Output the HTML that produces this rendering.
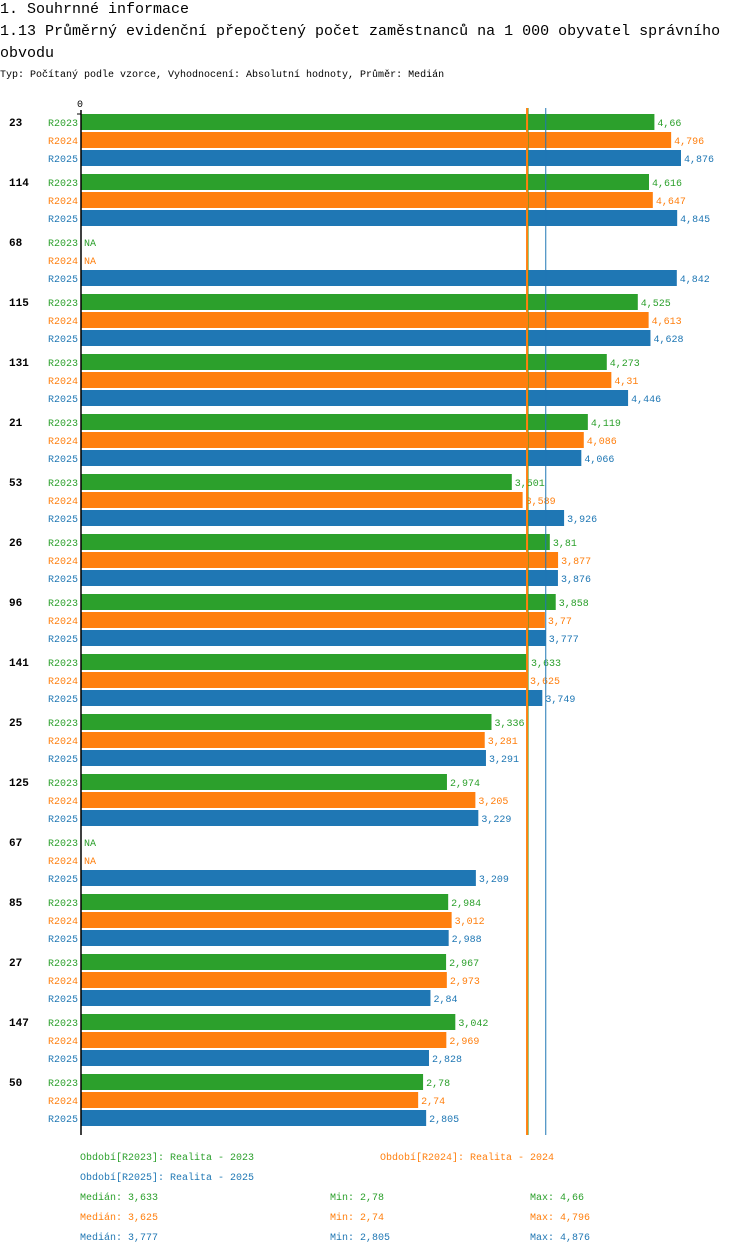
<!DOCTYPE html>
<html><head><meta charset="utf-8"><style>
body{margin:0;background:#fff;font-family:"Liberation Mono","DejaVu Sans Mono",monospace;}
svg text{font-family:"Liberation Mono","DejaVu Sans Mono",monospace;}
</style></head><body>
<svg width="750" height="1254" xmlns="http://www.w3.org/2000/svg">
<text x="0" y="13" font-size="15">1. Souhrnné informace</text>
<text x="0" y="35" font-size="15">1.13 Průměrný evidenční přepočtený počet zaměstnanců na 1 000 obyvatel správního</text>
<text x="0" y="57" font-size="15">obvodu</text>
<text x="0" y="77" font-size="10">Typ: Počítaný podle vzorce, Vyhodnocení: Absolutní hodnoty, Průměr: Medián</text>
<text x="77" y="107" font-size="10">0</text>
<g id="bars"></g>
<g id="legend"></g>
</svg>
<script>
const categories=["23","114","68","115","131","21","53","26","96","141","25","125","67","85","27","147","50"];
const r2023=[4.66,4.616,null,4.525,4.273,4.119,3.501,3.81,3.858,3.633,3.336,2.974,null,2.984,2.967,3.042,2.78];
const r2024=[4.796,4.647,null,4.613,4.31,4.086,3.589,3.877,3.77,3.625,3.281,3.205,null,3.012,2.973,2.969,2.74];
const r2025=[4.876,4.845,4.842,4.628,4.446,4.066,3.926,3.876,3.777,3.749,3.291,3.229,3.209,2.988,2.84,2.828,2.805];
const seriesNames=["R2023","R2024","R2025"];
const medians=[3.633,3.625,3.777];
const mins=[2.78,2.74,2.805];
const maxs=[4.66,4.796,4.876];
const colors=["#2ca02c","#ff7f0e","#1f77b4"];
const NS="http://www.w3.org/2000/svg";
const x0=81,k=123.05,top0=114,gp=60,rp=18,bh=16;
const xs=v=>x0+v*k;
const g=document.getElementById('bars');
function mk(t,a,p){const e=document.createElementNS(NS,t);for(const n in a)e.setAttribute(n,a[n]);(p||g).appendChild(e);return e;}
const series=[r2023,r2024,r2025];
categories.forEach((c,i)=>{
  const gy=top0+i*gp;
  const t=mk('text',{x:9,y:gy+12,'font-size':11,'font-weight':'bold'});t.textContent=c;
  
  
  series.forEach((s,j)=>{
    const y=gy+j*rp;
    const l=mk('text',{x:78,y:y+12,'font-size':10,fill:colors[j],'text-anchor':'end'});l.textContent=seriesNames[j];
    
    
    const v=s[i];
    if(v==null){
      const na=mk('text',{x:x0+3,y:y+12,'font-size':10,fill:colors[j]});na.textContent="NA";
      
      
      return;
    }
    const r=mk('rect',{x:x0,y:y,width:xs(v)-x0,height:bh,fill:colors[j]});
    
    
    const vl=mk('text',{x:xs(v)+3,y:y+12,'font-size':10,fill:colors[j]});vl.textContent=String(v).replace('.',',');
    
    
  });
});
const yEnd=top0+categories.length*gp+1;
[0,1,2].forEach(j=>{
  const ln=mk('line',{x1:xs(medians[j]),x2:xs(medians[j]),y1:108,y2:yEnd,stroke:colors[j],'stroke-width':j==1?2:1});
  
  
});
const ax=mk('line',{x1:x0,x2:x0,y1:110,y2:yEnd,stroke:'#000','stroke-width':1.5});


const tk=mk('line',{x1:77,x2:x0,y1:114,y2:114,stroke:'#000','stroke-width':1});


const lg=document.getElementById('legend');
function lt(x,y,txt,col,name){const e=mk('text',{x:x,y:y,'font-size':10,fill:col},lg);e.textContent=txt;
  
  }
lt(80,1160,"Období[R2023]: Realita - 2023",colors[0],'legend-entry');
lt(380,1160,"Období[R2024]: Realita - 2024",colors[1],'legend-entry');
lt(80,1180,"Období[R2025]: Realita - 2025",colors[2],'legend-entry');
[0,1,2].forEach(j=>{
  const y=1200+j*20;
  lt(80,y,"Medián: "+String(medians[j]).replace('.',','),colors[j],'median-stat');
  lt(330,y,"Min: "+String(mins[j]).replace('.',','),colors[j],'min-stat');
  lt(530,y,"Max: "+String(maxs[j]).replace('.',','),colors[j],'max-stat');
});
</script>
</body></html>
